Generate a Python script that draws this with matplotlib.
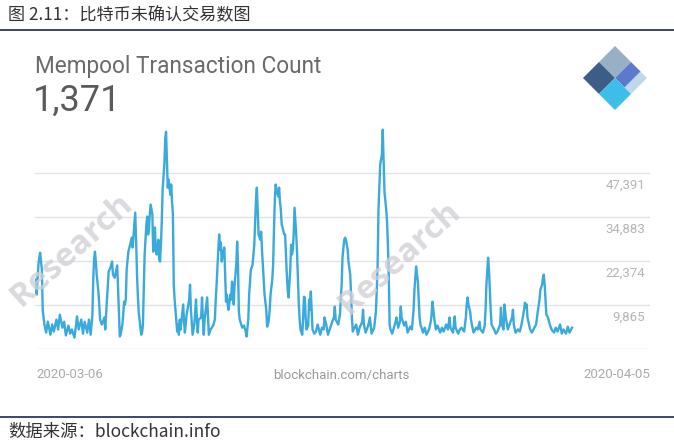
import numpy as np
import matplotlib
matplotlib.use("Agg")
import matplotlib.pyplot as plt
from matplotlib.patches import Polygon
from matplotlib.transforms import blended_transform_factory

# hours since 2020-03-06 00:00 and mempool tx count (thousands)
hours = [0, 1, 2, 4, 5, 6, 7, 8, 9, 11, 13, 15, 18, 20, 22, 25, 27, 29, 32, 34,
         36, 39, 41, 43, 46, 48, 49, 51, 54, 56, 58, 61, 63, 65, 67, 68, 69, 70, 71, 72,
         74, 75, 76, 78, 81, 82, 84, 86, 88, 90, 91, 93, 96, 97, 98, 99, 100, 102, 103, 104,
         105, 106, 107, 109, 111, 113, 114, 116, 117, 118, 119, 120, 121, 123, 124, 125, 126, 127, 128, 130,
         131, 132, 133, 134, 135, 137, 138, 139, 140, 141, 142, 144, 145, 146, 147, 148, 149, 151, 152, 153,
         154, 155, 156, 158, 159, 160, 161, 162, 163, 166, 167, 168, 169, 170, 173, 174, 175, 177, 180, 181,
         182, 184, 186, 188, 189, 190, 191, 194, 195, 196, 197, 198, 201, 202, 203, 205, 208, 210, 211, 212,
         214, 215, 216, 217, 218, 219, 221, 222, 223, 224, 225, 226, 228, 229, 230, 231, 232, 233, 235, 236,
         237, 238, 239, 242, 244, 246, 247, 249, 250, 251, 252, 253, 254, 256, 257, 258, 259, 260, 261, 263,
         264, 265, 266, 267, 268, 270, 271, 272, 273, 274, 275, 277, 278, 279, 280, 281, 282, 284, 285, 286,
         287, 288, 289, 291, 292, 293, 294, 295, 296, 298, 299, 300, 301, 302, 303, 305, 306, 307, 308, 309,
         310, 312, 313, 314, 315, 316, 317, 319, 320, 321, 322, 323, 324, 326, 328, 330, 333, 335, 337, 338,
         340, 342, 344, 347, 349, 350, 351, 354, 356, 358, 359, 361, 362, 363, 364, 365, 366, 368, 369, 370,
         371, 372, 375, 377, 379, 382, 383, 384, 386, 389, 391, 393, 396, 398, 399, 400, 401, 403, 404, 405,
         406, 407, 408, 410, 411, 412, 413, 414, 415, 417, 419, 421, 422, 424, 426, 427, 428, 431, 433, 435,
         438, 440, 442, 443, 445, 446, 447, 448, 449, 450, 453, 455, 457, 460, 462, 463, 464, 466, 468, 470,
         473, 475, 477, 480, 482, 484, 485, 488, 490, 491, 494, 496, 498, 501, 503, 504, 505, 506, 508, 509,
         510, 512, 515, 517, 519, 520, 523, 525, 526, 527, 529, 530, 531, 532, 533, 536, 538, 540, 543, 544,
         545, 547, 548, 550, 552, 554, 557, 558, 559, 561, 564, 566, 568, 571, 572, 573, 574, 575, 578, 580,
         582, 585, 587, 589, 590, 592, 593, 594, 595, 596, 597, 599, 601, 603, 606, 608, 610, 613, 615, 617,
         620, 622, 624, 627]

count_k = [14.3, 17.2, 12.9, 21.4, 23.4, 24.8, 22.3, 20.0, 8.6, 4.4, 2.1, 5.2, 1.5, 4.4, 2.4, 5.8, 3.0, 7.2, 3.5, 5.2,
           1.3, 4.1, 1.8, 3.0, 0.7, 4.4, 6.7, 3.0, 5.8, 1.8, 5.2, 2.1, 5.8, 1.5, 7.2, 17.2, 22.9, 25.1, 22.3, 18.6,
           13.8, 10.1, 5.8, 4.4, 6.4, 3.0, 11.5, 19.4, 20.6, 22.3, 18.6, 17.7, 21.2, 14.3, 8.1, 1.0, 1.5, 4.4, 7.2, 10.9,
           10.1, 11.5, 20.0, 25.1, 27.1, 29.1, 26.3, 32.8, 36.2, 28.5, 19.4, 12.9, 8.1, 3.5, 1.5, 2.1, 4.4, 14.3, 24.3, 32.8,
           35.1, 30.0, 31.4, 35.7, 38.5, 35.7, 25.1, 28.5, 32.0, 25.7, 24.3, 28.5, 22.9, 22.3, 27.1, 33.7, 42.8, 49.9, 57.0, 59.2,
           51.3, 43.3, 45.6, 41.3, 44.2, 39.3, 35.7, 15.7, 11.5, 2.4, 4.4, 1.5, 5.8, 3.0, 10.1, 5.2, 2.1, 7.2, 11.5, 15.7,
           8.6, 1.5, 4.4, 11.5, 5.8, 2.1, 5.8, 6.4, 12.1, 5.8, 1.5, 5.8, 12.1, 6.4, 1.5, 3.0, 4.1, 5.8, 11.5, 15.7,
           25.7, 30.0, 25.7, 27.7, 22.3, 24.3, 26.3, 18.6, 10.9, 12.9, 10.1, 8.6, 12.9, 11.5, 16.6, 14.3, 10.1, 15.7, 21.4, 28.0,
           21.4, 8.1, 5.8, 3.5, 4.1, 2.4, 1.0, 5.8, 12.9, 16.6, 20.0, 20.6, 21.4, 27.1, 33.7, 39.9, 43.3, 37.1, 30.0, 28.5,
           30.8, 25.7, 21.4, 17.2, 12.9, 8.6, 3.8, 4.4, 5.8, 8.6, 12.9, 17.2, 21.4, 31.4, 39.9, 44.2, 42.8, 40.8, 43.3, 39.3,
           37.1, 32.8, 32.0, 30.0, 30.0, 24.3, 18.6, 14.3, 12.1, 20.0, 27.1, 24.3, 25.7, 30.0, 37.6, 30.0, 24.3, 17.2, 10.1, 5.8,
           3.0, 1.5, 5.8, 12.3, 12.1, 6.4, 3.0, 4.1, 11.5, 8.6, 13.8, 8.6, 3.0, 1.8, 2.4, 4.4, 1.5, 3.5, 3.0, 6.4,
           4.4, 1.5, 3.0, 5.2, 6.4, 9.5, 5.8, 4.4, 7.2, 15.7, 23.4, 28.5, 29.1, 28.5, 27.1, 25.7, 22.3, 18.6, 12.9, 6.4,
           2.4, 3.0, 4.4, 1.5, 3.5, 5.2, 8.6, 4.4, 2.1, 4.1, 6.4, 1.8, 3.5, 8.1, 14.3, 21.4, 37.1, 49.9, 51.3, 52.7,
           59.8, 51.3, 42.2, 37.1, 33.7, 27.1, 18.6, 4.4, 3.0, 1.8, 3.5, 5.2, 6.4, 3.5, 5.2, 9.5, 6.4, 4.1, 5.2, 2.1,
           3.8, 3.0, 8.6, 14.3, 20.9, 18.6, 16.6, 11.5, 6.4, 4.4, 2.1, 3.5, 1.5, 3.0, 5.2, 7.2, 10.9, 6.4, 3.0, 4.1,
           2.1, 3.5, 2.4, 4.4, 3.0, 6.4, 3.5, 2.1, 6.7, 3.5, 1.8, 3.0, 3.5, 2.4, 6.4, 10.1, 12.1, 10.1, 8.1, 5.8,
           4.4, 2.1, 3.5, 3.0, 5.2, 3.0, 2.1, 4.1, 8.6, 15.7, 23.4, 20.0, 14.3, 8.6, 4.4, 3.0, 1.8, 2.4, 4.4, 9.2,
           4.4, 3.0, 10.1, 5.8, 3.0, 4.4, 6.4, 8.6, 4.4, 2.1, 3.0, 2.4, 4.4, 8.6, 10.6, 9.2, 10.1, 6.4, 3.0, 2.1,
           3.0, 4.4, 8.1, 11.5, 14.3, 15.7, 17.7, 18.6, 15.7, 11.5, 7.2, 6.4, 4.4, 3.0, 2.1, 3.5, 2.4, 4.4, 1.8, 3.0,
           1.8, 3.8, 2.1, 3.5]

y_ticks = [9865, 22374, 34883, 47391]
y_floor = -2644
date_labels = ["2020-03-06", "2020-04-05"]

W, H = 674, 442
fig = plt.figure(figsize=(W / 100, H / 100), dpi=100)
fig.patch.set_facecolor("white")


def px(x, y):
    return x / W, 1 - y / H


cjk = ["Noto Sans CJK SC", "DejaVu Sans"]

# header / footer bars
fig.text(*px(8, 15), "图 2.11：比特币未确认交易数图", family=cjk, fontsize=12.3,
         color="#333333", va="center", ha="left")
fig.add_artist(plt.Line2D([0, 1], [1 - 30 / H] * 2, color="#2f3566", lw=1.3))
fig.add_artist(plt.Line2D([0, 1], [1 - 417 / H] * 2, color="#2f3566", lw=1.3))
fig.text(*px(8, 432), "数据来源：blockchain.info", family=cjk, fontsize=12.5,
         color="#333333", va="center", ha="left")

# watermarks
for wx, wy in [(72, 250), (400, 258)]:
    fig.text(*px(wx, wy), "Research", fontsize=24, fontweight="bold", color="#d0d0d6",
             rotation=42, ha="center", va="center", family="Open Sans", alpha=0.8)

# chart title block
fig.text(*px(35, 66), "Mempool Transaction Count", family="Roboto", fontsize=16.3,
         color="#6b6b6b", va="center", ha="left")
fig.text(*px(33, 101), "1,371", family="Roboto", fontsize=26,
         color="#5a5a5a", va="center", ha="left")

# chart axes
ymax = 61000
bottom_px = 349.3
top_px = bottom_px - (ymax - y_floor) / 284.3
ax = fig.add_axes([35 / W, 1 - bottom_px / H, 615 / W, (bottom_px - top_px) / H])
ax.set_xlim(0, 718)
ax.set_ylim(y_floor, ymax)
for v in [y_floor] + y_ticks:
    ax.axhline(v, color="#e3e3e3", lw=1, zorder=0)
ax.plot(hours, np.array(count_k) * 1000, color="#3aa9dc", lw=1.7, zorder=2)
for s in ax.spines.values():
    s.set_visible(False)
ax.set_xticks([])
ax.set_yticks([])
ax.patch.set_alpha(0)

tr = blended_transform_factory(ax.transAxes, ax.transData)
for v in y_ticks:
    ax.text(0.992, v - 12 * 284.3, f"{v:,}", transform=tr, ha="right", va="center",
            family="Roboto", fontsize=9.5, color="#b5b5b5")

fig.text(*px(36, 375), date_labels[0], family="Roboto", fontsize=9.5, color="#aaaaaa",
         ha="left", va="center")
fig.text(*px(650, 375), date_labels[1], family="Roboto", fontsize=9.5, color="#aaaaaa",
         ha="right", va="center")
fig.text(*px(341, 375), "blockchain.com/charts", family="Roboto", fontsize=9.5,
         color="#999999", ha="center", va="center")

# blockchain logo (diamond)
top = np.array(px(615, 46))
right = np.array(px(647, 78))
left = np.array(px(583, 78))


def quad(u0, u1, v0, v1):
    pts = []
    for u, v in [(u0, v0), (u1, v0), (u1, v1), (u0, v1)]:
        pts.append(top + u * (right - top) + v * (left - top))
    return pts


pieces = [((0, 0.5, 0, 0.5), "#97b0c5"),
          ((0, 0.5, 0.5, 1), "#3e5d86"),
          ((0.5, 0.8, 0, 0.5), "#5b79cd"),
          ((0.8, 1, 0, 0.5), "#bcd8ea"),
          ((0.5, 1, 0.5, 1), "#3dbde9")]
for (u0, u1, v0, v1), c in pieces:
    fig.add_artist(Polygon(quad(u0, u1, v0, v1), closed=True, facecolor=c,
                           edgecolor="none", transform=fig.transFigure))

fig.savefig("out.png", dpi=100)
